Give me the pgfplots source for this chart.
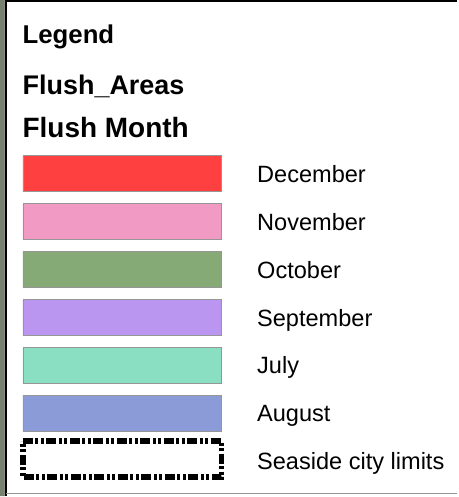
\documentclass[border=0pt]{standalone}
\usepackage{pgfplots}
\pgfplotsset{compat=1.18}
\usepackage{fontspec}
\setmainfont{Liberation Sans}
\definecolor{cDec}{RGB}{255,64,64}
\definecolor{cNov}{RGB}{240,154,196}
\definecolor{cOct}{RGB}{133,170,118}
\definecolor{cSep}{RGB}{187,150,240}
\definecolor{cJul}{RGB}{138,222,194}
\definecolor{cAug}{RGB}{138,155,216}
\definecolor{cEdge}{RGB}{150,150,150}
\definecolor{cMap}{RGB}{120,128,110}
\begin{document}
\begin{tikzpicture}
\begin{axis}[
  scale only axis, width=458pt, height=497pt,
  xmin=0, xmax=458, ymin=0, ymax=497, y dir=reverse,
  axis lines=none, clip=false,
]
% map strip and frame
\addplot[fill=cMap, draw=none] coordinates {(0,0) (5,0) (5,497) (0,497) (0,0)};
\addplot[fill=white, draw=none] coordinates {(5,0) (458,0) (458,497) (5,497) (5,0)};
\addplot[black, line width=2pt] coordinates {(6,497) (6,1) (458,1)};
\addplot[cEdge, line width=1.2pt] coordinates {(6,494.5) (458,494.5)};
% swatches
\addplot[fill=cDec, draw=cEdge, line width=0.8pt] coordinates {(23,156) (222,156) (222,192) (23,192) (23,156)};
\addplot[fill=cNov, draw=cEdge, line width=0.8pt] coordinates {(23,204) (222,204) (222,240) (23,240) (23,204)};
\addplot[fill=cOct, draw=cEdge, line width=0.8pt] coordinates {(23,252) (222,252) (222,288) (23,288) (23,252)};
\addplot[fill=cSep, draw=cEdge, line width=0.8pt] coordinates {(23,300) (222,300) (222,336) (23,336) (23,300)};
\addplot[fill=cJul, draw=cEdge, line width=0.8pt] coordinates {(23,348) (222,348) (222,384) (23,384) (23,348)};
\addplot[fill=cAug, draw=cEdge, line width=0.8pt] coordinates {(23,396) (222,396) (222,432) (23,432) (23,396)};
\addplot[black, line width=5.5pt, line join=miter,
  dash pattern=on 10pt off 2.5pt on 3pt off 2.5pt on 3pt off 2.5pt]
  coordinates {(23,442) (222,442) (222,478) (23,478) (23,442)};
% texts
\node[inner sep=0pt, anchor=base west, font=\fontsize{25.8}{30}\selectfont\bfseries] at (axis cs:22.5,43.3) {Legend};
\node[inner sep=0pt, anchor=base west, font=\fontsize{27}{31}\selectfont\bfseries] at (axis cs:22.5,95) {Flush\_Areas};
\node[inner sep=0pt, anchor=base west, font=\fontsize{28}{32}\selectfont\bfseries] at (axis cs:22.5,138) {Flush Month};
\node[inner sep=0pt, anchor=base west, font=\fontsize{23.6}{27}\selectfont] at (axis cs:257.5,182.7) {December};
\node[inner sep=0pt, anchor=base west, font=\fontsize{23.6}{27}\selectfont] at (axis cs:257.5,230.7) {November};
\node[inner sep=0pt, anchor=base west, font=\fontsize{23.6}{27}\selectfont] at (axis cs:257.5,278.7) {October};
\node[inner sep=0pt, anchor=base west, font=\fontsize{23.6}{27}\selectfont] at (axis cs:257.5,326.7) {September};
\node[inner sep=0pt, anchor=base west, font=\fontsize{23.6}{27}\selectfont] at (axis cs:257.5,374.7) {July};
\node[inner sep=0pt, anchor=base west, font=\fontsize{23.6}{27}\selectfont] at (axis cs:257.5,422.7) {August};
\node[inner sep=0pt, anchor=base west, font=\fontsize{23.6}{27}\selectfont] at (axis cs:257.5,470.7) {Seaside city limits};
\end{axis}
\end{tikzpicture}
\end{document}
